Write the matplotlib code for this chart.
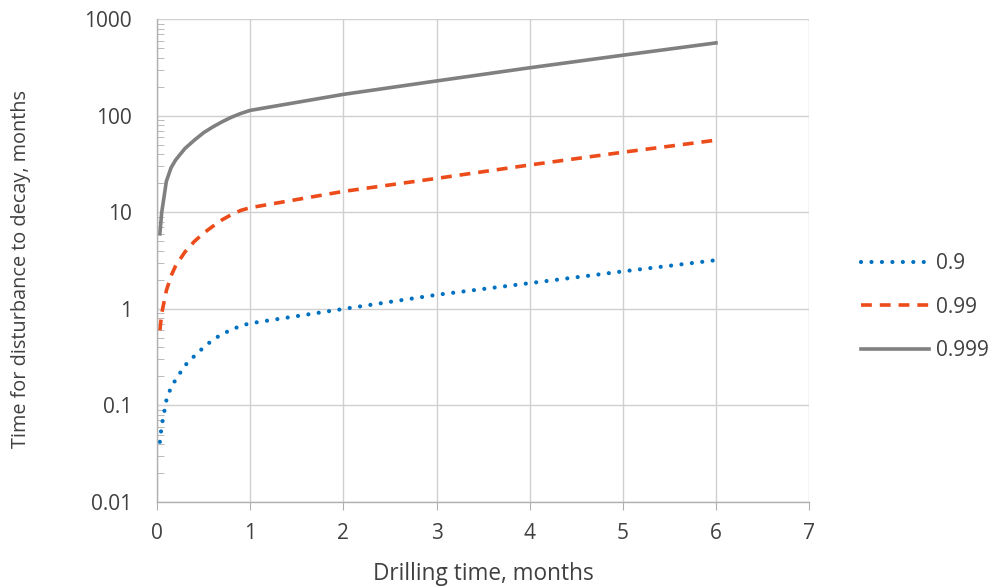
import matplotlib.pyplot as plt
from matplotlib.ticker import LogLocator, FixedLocator, NullFormatter

plt.rcParams['font.family'] = ['Open Sans', 'DejaVu Sans']

# drilling time, months
drill_time = [0.03, 0.05, 0.1, 0.15, 0.2, 0.3, 0.4, 0.5, 0.6, 0.7, 0.8, 0.9, 1, 2, 3, 4, 5, 6]
# time for disturbance to decay, months
decay_09 = [0.042, 0.062, 0.113, 0.155, 0.185, 0.26, 0.325, 0.40, 0.48, 0.55, 0.61, 0.67, 0.71,
            1.0, 1.4, 1.85, 2.45, 3.2]
decay_099 = [0.6, 0.9, 1.55, 2.2, 2.8, 3.9, 5.0, 6.1, 7.2, 8.4, 9.5, 10.5, 11.2,
             16.5, 22.5, 31, 42, 56]
decay_0999 = [6.0, 10, 21, 29, 35, 46, 56, 67, 77, 87, 97, 106, 114,
              167, 230, 315, 425, 570]
labels = ['0.9', '0.99', '0.999']

x_ticks = [0, 1, 2, 3, 4, 5, 6, 7]
y_ticks = [0.01, 0.1, 1, 10, 100, 1000]
y_tick_labels = ['0.01', '0.1', '1', '10', '100', '1000']

txt = '#404040'

fig = plt.figure(figsize=(9.94, 5.86), dpi=100)
ax = fig.add_axes([0.158, 0.1433, 0.656, 0.8237])

ax.plot(drill_time, decay_09, color='#0070C0', lw=3.0, linestyle=(0, (0.01, 2.5)),
        dash_capstyle='round', label=labels[0])
ax.plot(drill_time, decay_099, color='#EC4B1A', lw=2.6, linestyle=(0, (3.0, 2.2)),
        dash_capstyle='butt', label=labels[1])
ax.plot(drill_time, decay_0999, color='#808080', lw=2.6, label=labels[2])

ax.set_yscale('log')
ax.set_xlim(0, 7)
ax.set_ylim(0.01, 1000)
ax.xaxis.set_major_locator(FixedLocator(x_ticks))
ax.set_xticklabels([str(t) for t in x_ticks])
ax.yaxis.set_major_locator(FixedLocator(y_ticks))
ax.set_yticklabels(y_tick_labels)
ax.yaxis.set_minor_locator(LogLocator(base=10, subs=range(2, 10)))
ax.yaxis.set_minor_formatter(NullFormatter())

ax.grid(True, which='major', color='#D0D0D0', lw=1.0)
ax.set_axisbelow(True)
for s in ['top', 'right']:
    ax.spines[s].set_visible(False)
for s in ['left', 'bottom']:
    ax.spines[s].set_color('#B0B0B0')
    ax.spines[s].set_linewidth(1.0)

ax.tick_params(axis='x', which='major', length=6, color='#B0B0B0', labelsize=15,
               labelcolor=txt, pad=9)
ax.tick_params(axis='y', which='major', length=0, labelsize=15, labelcolor=txt, pad=18)
ax.tick_params(axis='y', which='minor', direction='in', length=5, color='#B0B0B0')

ax.set_xlabel('Drilling time, months', fontsize=16.3, color=txt, labelpad=13)
ax.set_ylabel('Time for disturbance to decay, months', fontsize=14.3, color=txt)
ax.yaxis.set_label_coords(-0.193, 0.482)

fig.legend(loc='center left', bbox_to_anchor=(0.847, 0.476), frameon=False, fontsize=15,
           handlelength=3.3, handletextpad=0.3, labelspacing=1.08, labelcolor=txt)

fig.savefig('out.png', dpi=100)
